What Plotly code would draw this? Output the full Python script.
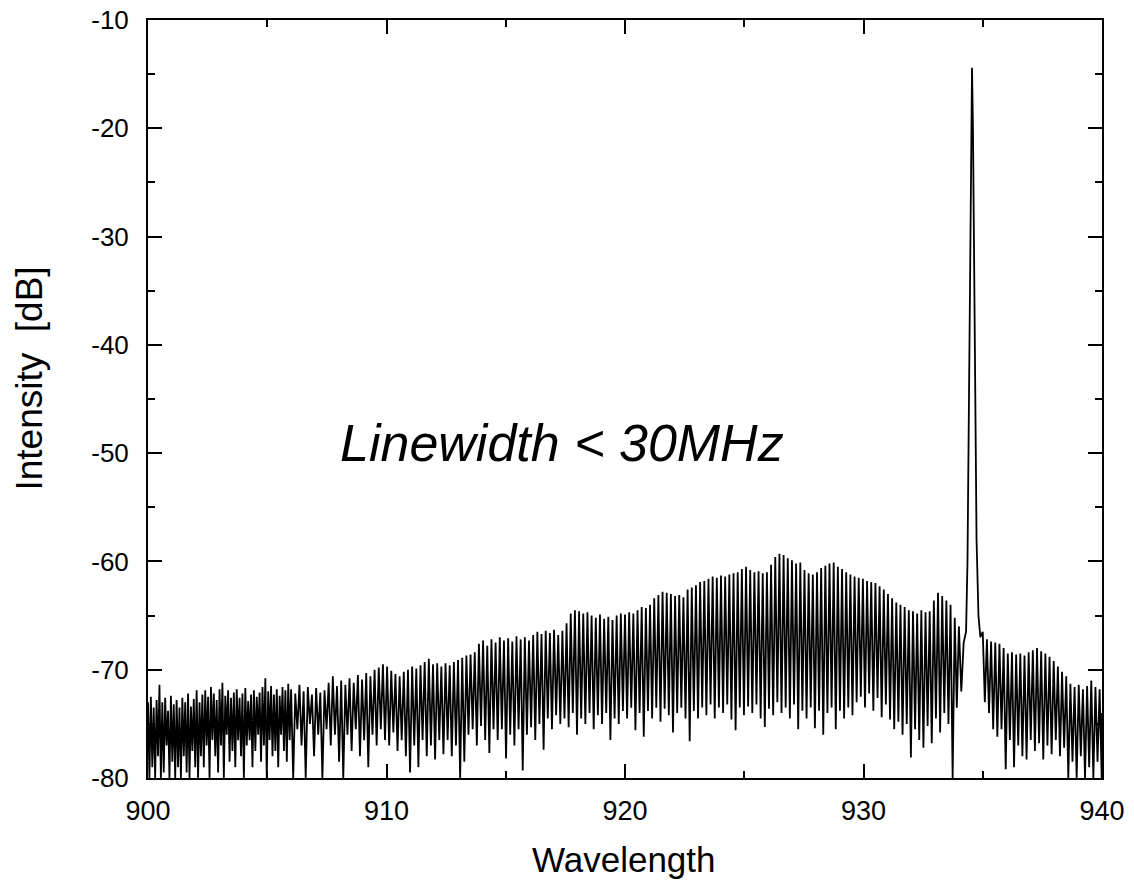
import plotly.graph_objects as go

# ---------------- data ----------------
# Segment A: 900.00 - 905.88 nm, one fringe every 0.12 nm (peak, then trough)
seg_a_start, seg_a_step = 900.0, 0.12
peaks_a = [-73, -72.5, -73.5, -72.8, -71.4, -73, -72.6, -73.8, -72.4, -73.2,
           -72.8, -73.5, -72.6, -73, -72.2, -73.4, -72.7, -71.9, -73, -72.3,
           -71.9, -72.5, -71.6, -72.2, -72.8, -71.8, -71.2, -72.4, -71.9, -72.6,
           -72.1, -71.8, -72.6, -72.2, -71.7, -72.9, -72.3, -71.9, -72.5, -72.1,
           -71.6, -70.8, -72, -71.5, -72.3, -71.8, -72.4, -71.6, -71.9, -71.3]
troughs_a = [-80, -79, -80, -78, -80, -79.5, -77, -80, -78.5, -80,
             -79, -80, -78, -79.5, -80, -77.5, -79, -80, -78, -79,
             -77, -80, -76.5, -78, -79.5, -77, -80, -76, -78.5, -77.5,
             -79, -76.5, -78, -80, -77, -76.5, -79, -77.5, -76, -78.5,
             -77, -80, -76.5, -78, -77.5, -79, -76, -77.5, -78.5, -76.5]

# Segment B: 906.0 - 933.825 nm, one fringe every 0.175 nm
seg_b_start, seg_b_step = 906.0, 0.175
peaks_b = [-71.8, -72.2, -71.4, -72.0, -71.6, -72.3, -71.7, -72.1, -71.9, -71.2,
           -70.6, -71.5, -71.0, -71.4, -70.8, -71.2, -70.5, -70.9, -70.3, -70.6,
           -70.0, -69.8, -69.5, -69.7, -70.1, -70.4, -70.6, -70.2, -70.0, -69.7,
           -69.9, -69.6, -69.3, -69.0, -69.5, -69.4, -69.7, -69.4, -69.6, -69.3,
           -69.1, -68.9, -68.7, -68.6, -68.4, -67.6, -67.3, -67.8, -67.2, -67.5,
           -67.0, -67.3, -67.1, -67.4, -66.9, -67.2, -67.0, -67.3, -66.8, -66.5,
           -66.7, -66.4, -66.6, -66.3, -66.8, -66.4, -65.7, -64.8, -64.5, -64.6,
           -64.8, -64.7, -65.0, -65.2, -64.9, -65.3, -65.1, -65.4, -65.0, -64.8,
           -64.9, -64.7, -64.8, -64.5, -64.2, -64.3, -64.0, -63.4, -63.1, -62.8,
           -62.9, -63.0, -63.2, -63.1, -63.3, -62.6, -62.4, -62.2, -61.9, -61.8,
           -61.6, -61.4, -61.5, -61.3, -61.4, -61.2, -61.1, -61.0, -60.7, -60.5,
           -60.8, -61.0, -60.9, -61.1, -61.0, -60.3, -59.6, -59.3, -59.4, -59.7,
           -59.9, -60.2, -60.1, -60.8, -61.1, -61.2, -61.0, -60.6, -60.4, -60.2,
           -60.1, -60.5, -60.7, -61.0, -61.2, -61.4, -61.5, -61.6, -61.8, -61.9,
           -62.0, -62.3, -62.6, -63.0, -63.4, -63.8, -64.0, -64.2, -64.5, -64.6,
           -64.8, -64.5, -64.7, -64.6, -63.6, -62.9, -63.2, -63.6, -64.0, -65.2]
troughs_b = [-80, -75.5, -77, -80, -75, -78, -76, -80, -75.5, -77,
             -76, -78.5, -80, -76, -77.5, -75.5, -78, -76.5, -79, -76,
             -77, -75.5, -76.5, -77, -75.8, -77.5, -76.5, -78, -79.5, -77,
             -79, -76.5, -78, -77, -78.3, -76.5, -77.8, -76.5, -78, -77,
             -80, -78.5, -76, -75.5, -77, -75.2, -76.5, -77.7, -75.5, -76.5,
             -75.5, -78.2, -76, -77, -75.5, -79.3, -76, -75.3, -76.5, -75,
             -77.4, -74.5, -75.5, -74.2, -75, -74.5, -75.3, -74, -76, -74.5,
             -75, -74, -75.5, -74.2, -75, -74, -76.5, -74.5, -75, -73.8,
             -74.5, -73.5, -75.6, -74, -76.2, -73.8, -74.5, -73.5, -74.8, -73.6,
             -74.2, -75.8, -74, -73.5, -74.5, -76.6, -73.8, -74.5, -73.5, -74.2,
             -73.2, -74.5, -73.5, -74, -73.2, -74.6, -75.6, -73.5, -74.2, -73.4,
             -74, -73.2, -74.5, -75.3, -73.6, -74.2, -73, -74, -73.5, -74.5,
             -73.2, -75.5, -73.8, -74.5, -73.5, -75.4, -73.8, -76, -74, -73.5,
             -75.5, -73.8, -74.5, -73.5, -74.2, -73, -72.5, -73.5, -72.2, -73.8,
             -72.6, -74.4, -73.2, -74.6, -75.5, -74.8, -76, -75, -78.1, -75.5,
             -76.5, -77.2, -75.2, -76.8, -74.5, -75.8, -74, -75, -80, -73.5]

# Laser line (main emission peak)
laser_wl = [934.00, 934.10, 934.20, 934.30, 934.36, 934.42, 934.47, 934.51,
            934.55, 934.59, 934.63, 934.68, 934.74, 934.82, 934.90]
laser_db = [-66.0, -72.0, -67.5, -66.5, -60.0, -44.0, -30.0, -20.0,
            -14.4, -20.0, -30.0, -44.0, -58.0, -65.0, -67.0]

# Segment C: 935.0 - 939.9 nm, one fringe every 0.175 nm
seg_c_start, seg_c_step = 935.0, 0.175
peaks_c = [-66.5, -67.2, -67.4, -67.5, -67.6, -68.0, -68.5, -68.4, -68.6, -68.5,
           -68.7, -68.4, -68.2, -68.0, -68.3, -68.5, -68.8, -69.2, -69.7, -70.2,
           -70.6, -71.3, -71.6, -71.4, -71.8, -71.5, -71.0, -71.6, -71.8]
troughs_c = [-73, -74, -75.5, -76.2, -75.5, -79.2, -76.5, -79, -77, -78,
             -78.3, -76.5, -77.5, -76.8, -78.3, -77, -77.8, -76.5, -78, -77.2,
             -80, -78.5, -80, -78, -80, -79, -80, -78.5, -80]
end_wl, end_db = 940.0, -74.0

x_tick_vals = [900, 910, 920, 930, 940]
x_tick_text = ["900", "910", "920", "930", "940"]
y_tick_vals = [-80, -70, -60, -50, -40, -30, -20, -10]
y_tick_text = ["-80", "-70", "-60", "-50", "-40", "-30", "-20", "-10"]

# ---------------- build the trace ----------------
xs, ys = [], []


def add_segment(start, step, peaks, troughs):
    for i, (p, t) in enumerate(zip(peaks, troughs)):
        lam = start + step * i
        xs.extend([lam, lam + step / 2])
        ys.extend([p, t])


add_segment(seg_a_start, seg_a_step, peaks_a, troughs_a)
add_segment(seg_b_start, seg_b_step, peaks_b, troughs_b)
xs.extend(laser_wl)
ys.extend(laser_db)
add_segment(seg_c_start, seg_c_step, peaks_c, troughs_c)
xs.append(end_wl)
ys.append(end_db)

FONT = "Arial, Liberation Sans, Helvetica, sans-serif"

fig = go.Figure()
fig.add_trace(go.Scatter(x=xs, y=ys, mode="lines",
                         line=dict(color="black", width=1.8),
                         hoverinfo="skip", showlegend=False))

fig.add_annotation(x=917.36, y=-49.1, xref="x", yref="y",
                   text="<i>Linewidth &lt; 30MHz</i>", showarrow=False,
                   font=dict(family=FONT, size=52, color="black"))

# axis titles placed as annotations (paper coordinates)
fig.add_annotation(x=0.499, y=-0.107, xref="paper", yref="paper",
                   text="Wavelength", showarrow=False,
                   xanchor="center", yanchor="middle",
                   font=dict(family=FONT, size=35, color="black"))
fig.add_annotation(x=-0.1237, y=0.527, xref="paper", yref="paper",
                   text="Intensity  [dB]", showarrow=False, textangle=-90,
                   xanchor="center", yanchor="middle",
                   font=dict(family=FONT, size=37, color="black"))

axis_common = dict(showline=True, linecolor="black", linewidth=2, mirror="ticks",
                   ticks="inside", ticklen=14, tickwidth=2, tickcolor="black",
                   showgrid=False, zeroline=False, automargin=False)

fig.update_xaxes(range=[900, 940], tickvals=x_tick_vals, ticktext=x_tick_text,
                 minor=dict(ticks="inside", ticklen=7, tickwidth=2, tickcolor="black", dtick=5, tick0=900),
                 tickfont=dict(family=FONT, size=27, color="black"),
                 ticklabelstandoff=8,
                 **axis_common)
fig.update_yaxes(range=[-80, -10], tickvals=y_tick_vals, ticktext=y_tick_text,
                 minor=dict(ticks="inside", ticklen=7, tickwidth=2, tickcolor="black", dtick=5, tick0=-80),
                 tickfont=dict(family=FONT, size=26, color="black"),
                 ticklabelstandoff=12,
                 **axis_common)

fig.update_layout(width=1134, height=888, autosize=False,
                  margin=dict(l=148, r=32, t=20, b=110, pad=0),
                  paper_bgcolor="white", plot_bgcolor="white")

fig.write_html("out.html")
